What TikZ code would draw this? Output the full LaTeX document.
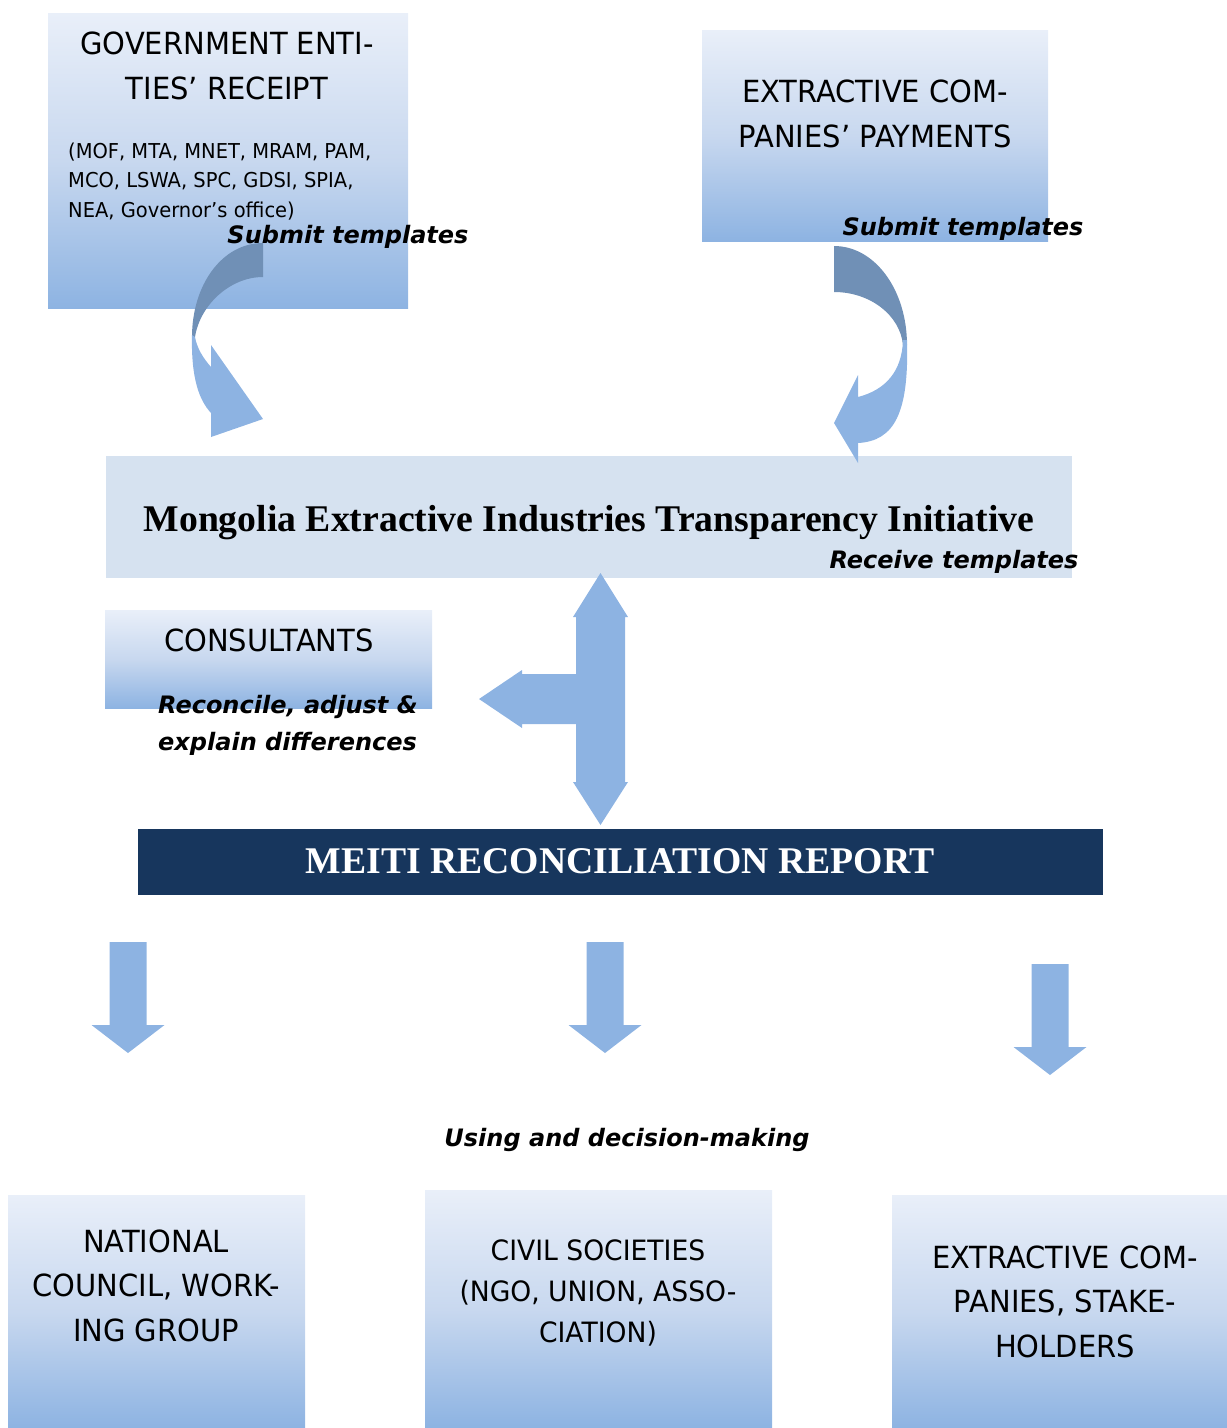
\documentclass[tikz,border=0pt]{standalone}
\usepackage{fontspec}
\setmainfont[FakeStretch=0.95]{DejaVu Sans}
\newfontfamily\actfont{DejaVu Sans}
\newfontfamily\titlefont{Liberation Serif}
\definecolor{boxtop}{RGB}{233,239,249}
\definecolor{boxmid}{RGB}{200,216,239}
\definecolor{boxbot}{RGB}{141,179,226}
\definecolor{meitifill}{RGB}{214,226,240}
\definecolor{arrowblue}{RGB}{141,179,226}
\definecolor{arrowdark}{RGB}{112,144,182}
\definecolor{reportblue}{RGB}{23,54,93}
\tikzset{
  shadebox/.style={inner sep=0pt, top color=boxtop, bottom color=boxbot, middle color=boxmid},
  captext/.style={font=\fontsize{30.5}{44.5}\selectfont, align=center, inner sep=0pt},
  listtext/.style={font=\fontsize{20.5}{29.5}\selectfont, align=left, anchor=west, inner sep=0pt},
  acttext/.style={font=\actfont\bfseries\itshape\fontsize{24}{37}\selectfont, inner sep=0pt},
  titletext/.style={font=\titlefont\bfseries\fontsize{37.7}{44}\selectfont, inner sep=0pt}
}
\begin{document}
\begin{tikzpicture}[x=1pt,y=-1pt]
  \useasboundingbox (0,0) rectangle (1227,1428);
  % boxes
  \node[shadebox, minimum width=360, minimum height=295] (gov) at (228,160.5) {};
  \node[shadebox, minimum width=346, minimum height=211] (ext) at (875,135.5) {};
  \node[fill=meitifill, inner sep=0pt, minimum width=966, minimum height=122] (meiti) at (589,517) {};
  \node[shadebox, minimum width=327, minimum height=98] (cons) at (268.5,659) {};
  \node[fill=reportblue, inner sep=0pt, minimum width=965, minimum height=66] (report) at (620.5,862) {};
  \node[shadebox, minimum width=297, minimum height=233] (council) at (156.5,1311.5) {};
  \node[shadebox, minimum width=347, minimum height=238] (civil) at (598.5,1309) {};
  \node[shadebox, minimum width=335, minimum height=233] (stake) at (1059.5,1311.5) {};
  % curved arrows
  \fill[arrowdark] (263,243) .. controls (222,243) and (192,285) .. (192,337) -- (195,337)
    .. controls (200,305) and (230,277) .. (263,277) -- cycle;
  \fill[arrowblue] (192,335) .. controls (191,378) and (199,400) .. (211,413) -- (211,437)
    -- (263,419) -- (211,345) -- (211,367) .. controls (203,358) and (197,348) .. (195,337) -- cycle;
  \fill[arrowdark] (834,246) .. controls (875,246) and (907,290) .. (907,345) -- (903,345)
    .. controls (900,315) and (870,292) .. (834,292) -- cycle;
  \fill[arrowblue] (907,340) .. controls (909,412) and (895,441) .. (858,443) -- (858,463)
    -- (834,423) -- (858,375) -- (858,397) .. controls (885,390) and (902,372) .. (903,340) -- cycle;
  % T arrow
  \fill[arrowblue] (600.5,573) -- (628,617) -- (625,617) -- (625,782) -- (628,782) -- (600.5,825)
    -- (573,782) -- (576,782) -- (576,724) -- (522,724) -- (522,728) -- (479,699) -- (522,670)
    -- (522,674) -- (576,674) -- (576,617) -- (573,617) -- cycle;
  % down arrows
  \foreach \ax/\ay in {128/942, 605/942, 1050/964}
    \fill[arrowblue] (\ax-18.5,\ay) -- (\ax+18.5,\ay) -- (\ax+18.5,\ay+83) -- (\ax+36.5,\ay+83)
      -- (\ax,\ay+111) -- (\ax-36.5,\ay+83) -- (\ax-18.5,\ay+83) -- cycle;
  % texts
  \node[captext] (govtitle) at (227,66) {GOVERNMENT ENTI-\\TIES’ RECEIPT};
  \node[listtext] (govlist) at (68,181.5) {(MOF, MTA, MNET, MRAM, PAM,\\MCO, LSWA, SPC, GDSI, SPIA,\\NEA, Governor’s office)};
  \node[captext] (exttitle) at (875,114) {EXTRACTIVE COM-\\PANIES’ PAYMENTS};
  \node[acttext] (submitl) at (348,237) {Submit templates};
  \node[acttext] (submitr) at (963,229) {Submit templates};
  \node[titletext] (meititle) at (589,523) {Mongolia Extractive Industries Transparency Initiative};
  \node[acttext] (receive) at (954,562) {Receive templates};
  \node[captext] (constitle) at (269,640) {CONSULTANTS};
  \node[acttext, align=left, anchor=west] (reconcile) at (158,725.5) {Reconcile, adjust \&\\explain differences};
  \node[titletext, text=white] (reporttitle) at (620,861) {MEITI RECONCILIATION REPORT};
  \node[acttext] (using) at (627,1140) {Using and decision-making};
  \node[captext] (counciltitle) at (156,1285.5) {NATIONAL\\COUNCIL, WORK-\\ING GROUP};
  \node[captext, font=\fontsize{28}{41}\selectfont] (civiltitle) at (598,1293) {CIVIL SOCIETIES\\(NGO, UNION, ASSO-\\CIATION)};
  \node[captext] (staketitle) at (1065,1301.5) {EXTRACTIVE COM-\\PANIES, STAKE-\\HOLDERS};
\end{tikzpicture}
\end{document}
